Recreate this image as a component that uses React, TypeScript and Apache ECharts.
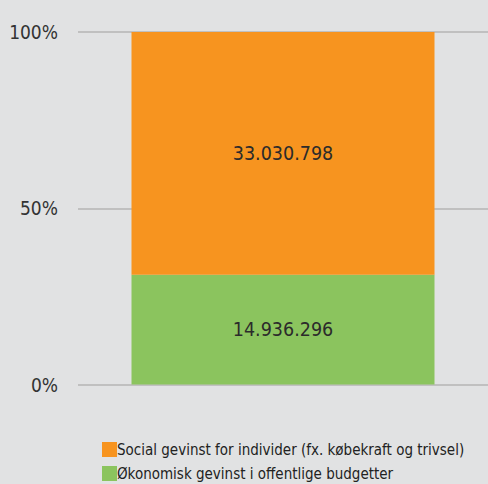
import React, { useEffect, useRef } from "react";
import * as echarts from "echarts";

const categories = ["Gevinst"];
const seriesNames = [
  "Økonomisk gevinst i offentlige budgetter",
  "Social gevinst for individer (fx. købekraft og trivsel)",
];
const greenValues = [14936296];
const orangeValues = [33030798];
const yTicks = ["0%", "50%", "100%"];

const fmt = (v: number) => v.toString().replace(/\B(?=(\d{3})+(?!\d))/g, ".");
const FONT = "'DejaVu Sans Condensed', 'DejaVu Sans', sans-serif";

export default function App() {
  const ref = useRef<HTMLDivElement>(null);
  useEffect(() => {
    const chart = echarts.init(ref.current!, null, { renderer: "svg" });
    const totals = categories.map((_, i) => greenValues[i] + orangeValues[i]);
    const labelStyle = {
      show: true,
      position: "inside",
      fontSize: 19.5,
      color: "#2b2b2b",
      fontFamily: FONT,
    };
    chart.setOption({
      animation: false,
      backgroundColor: "#e1e2e3",
      textStyle: { fontFamily: FONT },
      grid: { left: 78, right: 0, top: 32, bottom: 99.5 },
      xAxis: {
        type: "category",
        data: categories,
        axisLine: { show: false },
        axisTick: { show: false },
        axisLabel: { show: false },
      },
      yAxis: {
        type: "value",
        min: 0,
        max: 100,
        interval: 50,
        axisLine: { show: false },
        axisTick: { show: false },
        axisLabel: {
          formatter: (v: number) => yTicks[Math.round(v / 50)],
          fontSize: 19,
          color: "#333",
          margin: 20,
          fontFamily: FONT,
        },
        splitLine: { lineStyle: { color: "#b5b5b5", width: 1.5 } },
      },
      legend: {
        orient: "vertical",
        left: 102,
        top: 442,
        padding: 0,
        itemWidth: 15,
        itemHeight: 15,
        itemGap: 9,
        icon: "rect",
        data: [seriesNames[1], seriesNames[0]],
        textStyle: { fontSize: 15, color: "#222", fontFamily: FONT, padding: [3, 0, 0, -5] },
      },
      series: [
        {
          name: seriesNames[0],
          type: "bar",
          stack: "total",
          barWidth: 303,
          itemStyle: { color: "#8bc45e" },
          data: greenValues.map((v, i) => (v / totals[i]) * 100),
          label: { ...labelStyle, formatter: (p: any) => fmt(greenValues[p.dataIndex]) },
        },
        {
          name: seriesNames[1],
          type: "bar",
          stack: "total",
          barWidth: 303,
          itemStyle: { color: "#f7941f" },
          data: orangeValues.map((v, i) => (v / totals[i]) * 100),
          label: { ...labelStyle, formatter: (p: any) => fmt(orangeValues[p.dataIndex]) },
        },
      ],
    });
    return () => chart.dispose();
  }, []);
  return <div ref={ref} style={{ width: 488, height: 484, position: "absolute", left: 0, top: 0 }} />;
}
